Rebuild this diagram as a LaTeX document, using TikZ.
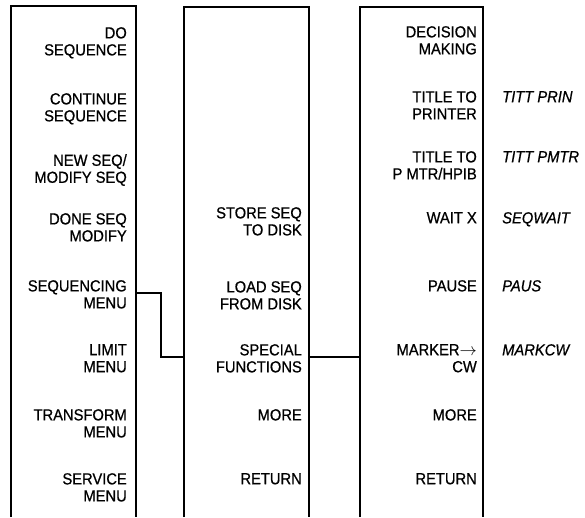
\documentclass[tikz,border=0pt]{standalone}
\usepackage{fontspec}
\setmainfont{Liberation Sans}[FakeStretch=0.92,FakeBold=0.7]
\begin{document}
\begin{tikzpicture}[x=1pt,y=-1pt,
  boxline/.style={line width=2.6pt, line join=miter},
  link/.style={line width=2.6pt},
  key/.style={anchor=north east, align=right, inner sep=0pt, font=\fontsize{16}{17}\selectfont},
  mnem/.style={anchor=north west, inner sep=0pt, font=\fontsize{16}{17}\selectfont\itshape}]
\useasboundingbox (0,0) rectangle (585,517);
% boxes (open at bottom)
\draw[boxline] (11,517) -- (11,6) -- (136,6) -- (136,517);
\draw[boxline] (184,517) -- (184,7) -- (309,7) -- (309,517);
\draw[boxline] (360,517) -- (360,7) -- (483,7) -- (483,517);
% left menu
\node[key] (l1) at (127,27) {DO\\SEQUENCE};
\node[key] (l2) at (127,93) {CONTINUE\\SEQUENCE};
\node[key] (l3) at (127,154) {NEW SEQ/\\MODIFY SEQ};
\node[key] (l4) at (127,213) {DONE SEQ\\MODIFY};
\node[key] (l5) at (127,280) {SEQUENCING\\MENU};
\node[key] (l6) at (127,344) {LIMIT\\MENU};
\node[key] (l7) at (127,409) {TRANSFORM\\MENU};
\node[key] (l8) at (127,473) {SERVICE\\MENU};
% middle menu
\node[key] (m4) at (302,207) {STORE SEQ\\TO DISK};
\node[key] (m5) at (302,281) {LOAD SEQ\\FROM DISK};
\node[key] (m6) at (302,344) {SPECIAL\\FUNCTIONS};
\node[key] (m7) at (302,409) {MORE};
\node[key] (m8) at (302,473) {RETURN};
% right menu
\node[key] (r1) at (477,26) {DECISION\\MAKING};
\node[key] (r2) at (477,91) {TITLE TO\\PRINTER};
\node[key] (r3) at (477,151) {TITLE TO\\P MTR/HPIB};
\node[key] (r4) at (477,212) {WAIT X};
\node[key] (r5) at (477,280) {PAUSE};
\node[key] (r6) at (477,344) {MARKER$\rightarrow$\\CW};
\node[key] (r7) at (477,409) {MORE};
\node[key] (r8) at (477,473) {RETURN};
% mnemonics
\node[mnem] (n2) at (502,91) {TITT PRIN};
\node[mnem] (n3) at (502,151) {TITT PMTR};
\node[mnem] (n4) at (502,212) {SEQWAIT};
\node[mnem] (n5) at (502,280) {PAUS};
\node[mnem] (n6) at (502,344) {MARKCW};
% connectors
\coordinate (lseq) at (136,293);
\coordinate (bend) at (161,293);
\coordinate (mspec) at (184,357);
\coordinate (mspecr) at (309,357);
\coordinate (rmark) at (360,357);
\draw[link] (lseq) -- (bend) |- (mspec);
\draw[link] (mspecr) -- (rmark);
\end{tikzpicture}
\end{document}
